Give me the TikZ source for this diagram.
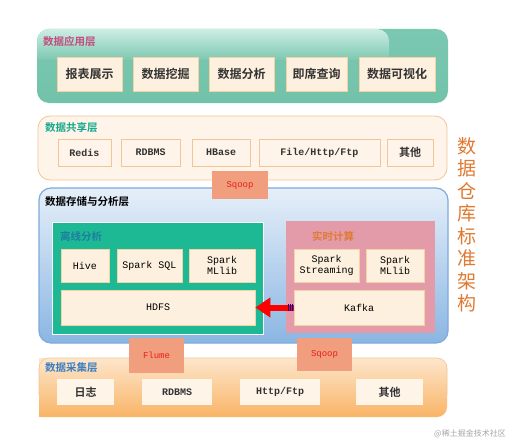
\documentclass[tikz,border=0pt]{standalone}
\usepackage{fontspec}
\newfontfamily\cjk{Noto Sans CJK SC}[BoldFont={Noto Sans CJK SC Bold}]
\newfontfamily\mono{Liberation Mono}
\usetikzlibrary{arrows.meta}
\definecolor{appBase}{HTML}{7BC8B1}
\definecolor{appBot}{HTML}{72C2AA}
\definecolor{appLight}{HTML}{CDEDE3}
\definecolor{boxFill}{HTML}{FDF0DE}
\definecolor{boxLine}{HTML}{F4D2A2}
\definecolor{shareFill}{HTML}{FFF4EA}
\definecolor{shareLine}{HTML}{F3C496}
\definecolor{stoTop}{HTML}{E6EFF9}
\definecolor{stoBot}{HTML}{8AB6E3}
\definecolor{stoLine}{HTML}{7FAADB}
\definecolor{offFill}{HTML}{1DB995}
\definecolor{rtFill}{HTML}{E39BAA}
\definecolor{tagFill}{HTML}{F09E7E}
\definecolor{tagText}{HTML}{E8201C}
\definecolor{colTop}{HTML}{FDE6CC}
\definecolor{colBot}{HTML}{F9B466}
\definecolor{titleOr}{HTML}{E07A32}
\definecolor{appLbl}{HTML}{C24D7E}
\definecolor{shareLbl}{HTML}{17A98C}
\definecolor{offLbl}{HTML}{1F7E9E}
\definecolor{colLbl}{HTML}{3C7FC0}
\definecolor{txtDark}{HTML}{333333}
\tikzset{
  layer/.style={rounded corners=12pt, inner sep=0pt},
  cbox/.style={draw=boxLine, fill=boxFill, line width=0.8pt, inner sep=0pt,
    font=\cjk\bfseries\fontsize{12}{14}\selectfont, text=txtDark},
  sbox/.style={draw=shareLine, fill=shareFill, line width=0.8pt, inner sep=0pt,
    font=\mono\bfseries\fontsize{10}{12}\selectfont, text=txtDark},
  abox/.style={draw=boxLine, fill=boxFill, line width=0.6pt, inner sep=0pt, align=center,
    font=\mono\fontsize{10}{11}\selectfont, text=black},
  gbox/.style={fill=boxFill!70!white, inner sep=0pt,
    font=\mono\bfseries\fontsize{10}{12}\selectfont, text=txtDark},
  tag/.style={fill=tagFill, inner sep=0pt, text=tagText,
    font=\mono\fontsize{9}{11}\selectfont},
  lbl/.style={anchor=west, inner sep=0pt, font=\cjk\bfseries\fontsize{10.5}{12}\selectfont}
}
\begin{document}
\begin{tikzpicture}[x=1pt,y=-1pt]
\useasboundingbox (0,0) rectangle (510,444);
\fill[white] (0,0) rectangle (510,444);

% ---------- application layer
\shade[layer, top color=appBase, bottom color=appBot] (37,29) rectangle (448,103);
\shade[top color=appLight, bottom color=appBase] (49,29) [rounded corners=12pt] -- (389,29) [sharp corners] -- (389,60) -- (37,60) [rounded corners=12pt] -- (37,29) [sharp corners] -- cycle;
\node[lbl, text=appLbl] (applbl) at (43,42) {数据应用层};
\node[cbox, minimum width=65pt, minimum height=34pt] (a1) at (89.5,74) {报表展示};
\node[cbox, minimum width=65pt, minimum height=34pt] (a2) at (165.5,74) {数据挖掘};
\node[cbox, minimum width=65pt, minimum height=34pt] (a3) at (241.5,74) {数据分析};
\node[cbox, minimum width=61pt, minimum height=34pt] (a4) at (316.5,74) {即席查询};
\node[cbox, minimum width=76pt, minimum height=34pt] (a5) at (397,74) {数据可视化};

% ---------- sharing layer
\draw[layer, fill=shareFill, draw=shareLine, line width=0.8pt] (38,116) rectangle (447,180);
\node[lbl, text=shareLbl] (sharelbl) at (45,128) {数据共享层};
\node[sbox, minimum width=53pt, minimum height=27pt] (s1) at (84.5,152.5) {Redis};
\node[sbox, minimum width=59pt, minimum height=27pt] (s2) at (150.5,152.5) {RDBMS};
\node[sbox, minimum width=58pt, minimum height=27pt] (s3) at (221,152.5) {HBase};
\node[sbox, minimum width=121pt, minimum height=27pt] (s4) at (319.5,152.5) {File/Http/Ftp};
\node[sbox, minimum width=46pt, minimum height=27pt, font=\cjk\bfseries\fontsize{11}{13}\selectfont] (s5) at (410,152.5) {其他};

% ---------- storage & analysis layer
\shade[layer, top color=stoTop, bottom color=stoBot] (39,188) rectangle (448,343);
\draw[layer, draw=stoLine, line width=1.2pt] (39,188) rectangle (448,343);
\node[tag, minimum width=56pt, minimum height=28pt] (sq1) at (240,185) {Sqoop};
\node[lbl, text=black] (stolbl) at (45,202) {数据存储与分析层};

\draw[draw=white, fill=offFill, line width=1pt] (52,222) rectangle (263,334);
\node[lbl, text=offLbl] (offlbl) at (60,236) {离线分析};
\node[abox, minimum width=48pt, minimum height=33pt] (hive) at (85,265.5) {Hive};
\node[abox, minimum width=65pt, minimum height=33pt] (sql) at (149.5,265.5) {Spark SQL};
\node[abox, minimum width=66pt, minimum height=33pt] (ml1) at (222,265.5) {Spark\\MLlib};
\node[abox, minimum width=194pt, minimum height=35pt] (hdfs) at (158,307.5) {HDFS};

\fill[rtFill] (286,221) rectangle (435,333);
\node[lbl, text=titleOr] (rtlbl) at (312,236) {实时计算};
\node[abox, minimum width=65pt, minimum height=33pt] (ss) at (326.5,265.5) {Spark\\Streaming};
\node[abox, minimum width=58pt, minimum height=33pt] (ml2) at (395,265.5) {Spark\\MLlib};
\node[abox, minimum width=130pt, minimum height=35pt] (kafka) at (359,307.5) {Kafka};

\draw[red, line width=6pt, -{Triangle[length=15pt,width=19pt]}] (kafka.west) -- (hdfs.east);
\foreach \d in {1.5,3.5,5.5}
  \draw[blue!70!black, line width=0.9pt] ([xshift=-\d pt, yshift=-3.5pt]kafka.west) -- ([xshift=-\d pt, yshift=3.5pt]kafka.west);

% ---------- collection layer
\shade[top color=colTop, bottom color=colBot, rounded corners=10pt] (39,358) -- (447,358) -- (447,417) [sharp corners] -- (39,417) -- cycle;
\draw[draw=shareLine, line width=0.6pt, rounded corners=10pt] (39,395) -- (39,358) -- (447,358) -- (447,395);
\node[tag, minimum width=55pt, minimum height=35pt] (flume) at (156.5,355.5) {Flume};
\node[tag, minimum width=55pt, minimum height=33pt] (sq2) at (324.5,354.5) {Sqoop};
\node[lbl, text=colLbl] (collbl) at (45,368) {数据采集层};
\node[gbox, minimum width=57pt, minimum height=26pt, font=\cjk\bfseries\fontsize{11}{13}\selectfont] (c1) at (85.5,392) {日志};
\node[gbox, minimum width=70pt, minimum height=26pt] (c2) at (177,392) {RDBMS};
\node[gbox, minimum width=80pt, minimum height=26pt] (c3) at (280,392) {Http/Ftp};
\node[gbox, minimum width=67pt, minimum height=26pt, font=\cjk\bfseries\fontsize{11}{13}\selectfont] (c4) at (389.5,392) {其他};

% ---------- vertical title
\node[text=titleOr, font=\cjk\fontsize{19}{22.5}\selectfont, align=center, inner sep=0pt] (title) at (467,225)
  {数\\据\\仓\\库\\标\\准\\架\\构};

% ---------- watermark
\node[text=gray!70, font=\cjk\fontsize{8}{10}\selectfont, anchor=east, inner sep=0pt] (wm) at (506,434) {@稀土掘金技术社区};
\end{tikzpicture}
\end{document}
